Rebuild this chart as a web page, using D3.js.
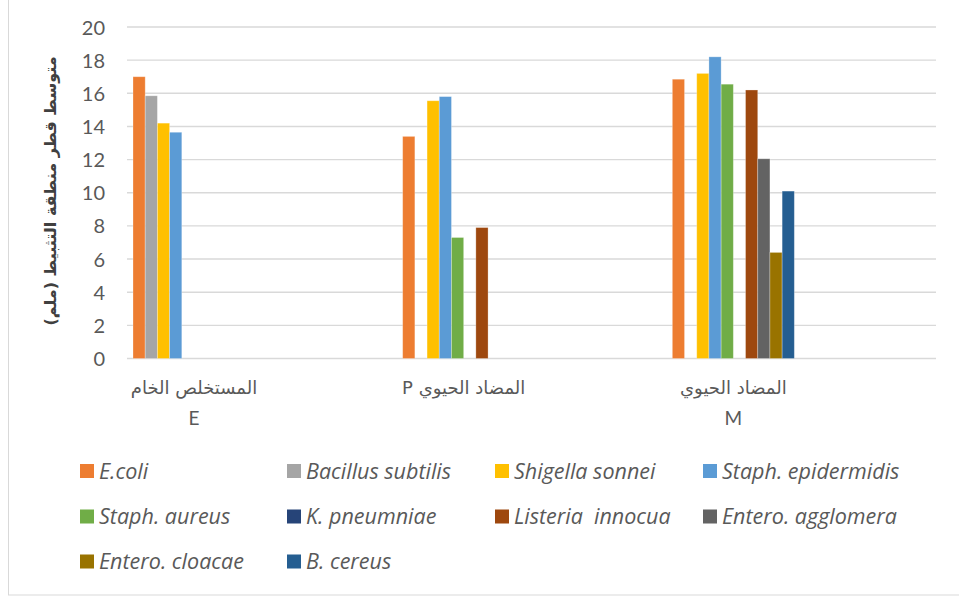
<!DOCTYPE html>
<html>
<head>
<meta charset="utf-8">
<script src="https://cdn.jsdelivr.net/npm/d3@7"></script>
<style>
  html, body { margin: 0; padding: 0; background: #fff; }
  svg { display: block; }
</style>
</head>
<body>
<svg id="chart" width="959" height="598"></svg>
<script>
// Inhibition-zone diameters (mm) per treatment and organism
const categories = ["E", "P", "M"];
const categoryLines = [
  ["المستخلص الخام", "E"],
  ["المضاد الحيوي P"],
  ["المضاد الحيوي", "M"]
];
const seriesNames = [
  "E.coli", "Bacillus subtilis", "Shigella sonnei", "Staph. epidermidis",
  "Staph. aureus", "K. pneumniae", "Listeria  innocua", "Entero. agglomera",
  "Entero. cloacae", "B. cereus"
];
const eColi           = [17.0, 13.4, 16.85];
const bacillus        = [15.85, null, null];
const shigella        = [14.2, 15.55, 17.2];
const staphEpi        = [13.65, 15.8, 18.2];
const staphAureus     = [null, 7.3, 16.55];
const kPneumniae      = [null, null, null];
const listeria        = [null, 7.9, 16.2];
const enteroAgg       = [null, null, 12.05];
const enteroCloacae   = [null, null, 6.4];
const bCereus         = [null, null, 10.1];
const seriesValues = [eColi, bacillus, shigella, staphEpi, staphAureus,
  kPneumniae, listeria, enteroAgg, enteroCloacae, bCereus];
const seriesColors = ["#ED7D31", "#A5A5A5", "#FFC000", "#5B9BD5", "#70AD47",
  "#264478", "#9E480E", "#636363", "#997300", "#255E91"];
const yTicks = [0, 2, 4, 6, 8, 10, 12, 14, 16, 18, 20];
const yTitle = "متوسط قطر منطقة التثبيط (ملم)";

const svg = d3.select("#chart");
const plot = { left: 127, right: 936, top: 27, bottom: 358.5 };
const textColor = "#595959";
const numFont = "Lato, 'Liberation Sans', sans-serif";
const legendFont = "'Open Sans', Lato, sans-serif";

// outer frame
svg.append("rect")
  .attr("x", 8.5).attr("y", -5).attr("width", 970).attr("height", 600)
  .attr("fill", "#fff").attr("stroke", "#d9d9d9").attr("stroke-width", 1);

const y = d3.scaleLinear().domain([0, 20]).range([plot.bottom, plot.top]);
const x0 = d3.scaleBand().domain(categories).range([plot.left, plot.right]);
// bar cluster sits near the start of each category slot
const clusterStart = 6, clusterWidth = 122;
const x1 = d3.scaleBand().domain(seriesNames).range([clusterStart, clusterStart + clusterWidth]);

// gridlines
svg.append("g").selectAll("line").data(yTicks).join("line")
  .attr("x1", plot.left).attr("x2", plot.right)
  .attr("y1", d => y(d)).attr("y2", d => y(d))
  .attr("stroke", "#d9d9d9").attr("stroke-width", 1.4);

// y axis labels
const yAxis = svg.append("g").attr("transform", `translate(${plot.left - 22},0)`)
  .call(d3.axisLeft(y).tickValues(yTicks).tickSize(0).tickPadding(0));
yAxis.select(".domain").remove();
yAxis.selectAll("text")
  .attr("fill", textColor).attr("font-size", 20).attr("font-family", numFont)
  .attr("dy", "0.35em");

// bars
const barData = [];
seriesNames.forEach((s, i) => {
  categories.forEach((c, j) => {
    const v = seriesValues[i][j];
    if (v != null) barData.push({ series: s, cat: c, value: v, color: seriesColors[i] });
  });
});
svg.append("g").selectAll("rect").data(barData).join("rect")
  .attr("x", d => x0(d.cat) + x1(d.series))
  .attr("width", x1.bandwidth())
  .attr("y", d => y(d.value))
  .attr("height", d => y(0) - y(d.value))
  .attr("fill", d => d.color)
  .attr("stroke", "rgba(255,255,255,0.35)").attr("stroke-width", 0.8);

// category labels, centred under each bar cluster
const catG = svg.append("g");
categories.forEach((c, j) => {
  const cx = x0(c) + clusterStart + clusterWidth / 2;
  const t = catG.append("text")
    .attr("x", cx).attr("y", 394)
    .attr("text-anchor", "middle")
    .attr("fill", textColor)
    .attr("font-size", 18)
    .attr("font-family", "'DejaVu Sans', sans-serif")
    .style("direction", "rtl").style("unicode-bidi", "embed");
  categoryLines[j].forEach((line, k) => {
    t.append("tspan").attr("x", cx).attr("dy", k === 0 ? 0 : 31).text(line)
      .attr("font-family", /^[A-Z]$/.test(line) ? numFont : null)
      .attr("font-size", /^[A-Z]$/.test(line) ? 19 : null);
  });
});

// y axis title
svg.append("text")
  .attr("transform", "translate(56,191) rotate(-90)")
  .attr("text-anchor", "middle")
  .attr("fill", "#404040")
  .attr("font-weight", "bold")
  .attr("font-size", 16)
  .attr("font-family", "'DejaVu Sans', sans-serif")
  .style("direction", "rtl").style("unicode-bidi", "embed")
  .text(yTitle);

// legend: 4 columns, 3 rows
const legendCols = [80, 287, 495, 703];
const legendRows = [471, 516.5, 561.5];
const lg = svg.append("g").selectAll("g").data(seriesNames).join("g")
  .attr("transform", (d, i) => `translate(${legendCols[i % 4]},${legendRows[Math.floor(i / 4)]})`);
lg.append("rect").attr("x", 0).attr("y", -7).attr("width", 14).attr("height", 14)
  .attr("fill", (d, i) => seriesColors[i]);
lg.append("text").attr("x", 19).attr("y", 0).attr("dy", "0.35em")
  .attr("fill", textColor).attr("font-size", 21.5).attr("font-style", "italic")
  .attr("font-family", legendFont)
  .style("white-space", "pre")
  .text(d => d);
</script>
</body>
</html>
